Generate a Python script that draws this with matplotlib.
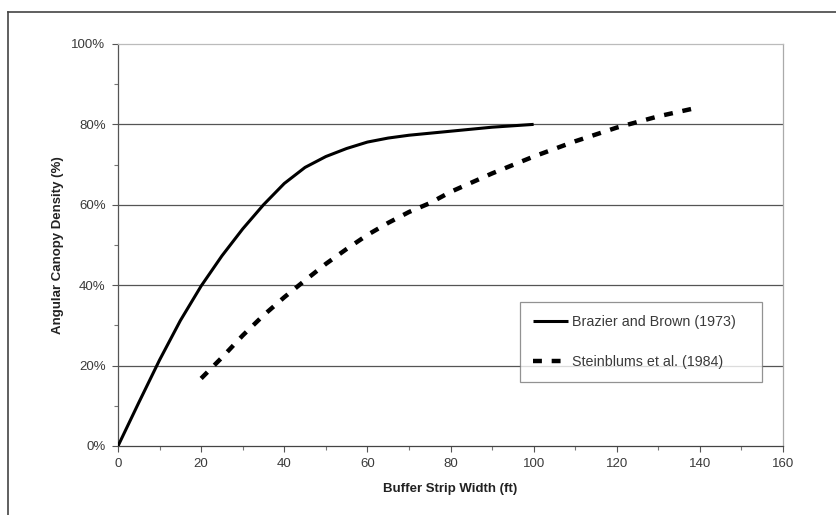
import matplotlib
matplotlib.use("Agg")
import matplotlib.pyplot as plt
from matplotlib.ticker import MultipleLocator, PercentFormatter
from matplotlib.lines import Line2D

plt.rcParams['font.family'] = ['Liberation Sans', 'DejaVu Sans']

brazier_x = [0, 5, 10, 15, 20, 25, 30, 35, 40, 45, 50, 55, 60, 65, 70, 80, 90, 100]
brazier_y = [0, 10.8, 21.4, 31.2, 39.8, 47.3, 54, 60, 65.3, 69.3, 72, 74, 75.6, 76.6, 77.3, 78.3, 79.3, 80]

stein_x = [20, 25, 30, 35, 40, 45, 50, 55, 60, 65, 70, 75, 80, 90, 100, 110, 120, 130, 140]
stein_y = [16.8, 22, 27.5, 32.5, 37, 41.2, 45.3, 49, 52.5, 55.5, 58.2, 60.4, 63.2, 67.8, 72, 75.8, 79.2, 82, 84.3]

labels = ["Brazier and Brown (1973)", "Steinblums et al. (1984)"]
xlabel = "Buffer Strip Width (ft)"
ylabel = "Angular Canopy Density (%)"

fig = plt.figure(figsize=(8.37, 5.15), dpi=100)
ax = fig.add_axes([0.141, 0.134, 0.7945, 0.7806])

for y in [20, 40, 60, 80]:
    ax.axhline(y, color='#555555', lw=0.9, zorder=1)

l1, = ax.plot(brazier_x, brazier_y, color='black', lw=2.2, solid_capstyle='butt',
              solid_joinstyle='round', zorder=3)
l2, = ax.plot(stein_x, stein_y, color='black', lw=3.2, dashes=(2.0, 2.2), zorder=3)

ax.set_xlim(0, 160)
ax.set_ylim(0, 100)
ax.xaxis.set_major_locator(MultipleLocator(20))
ax.xaxis.set_minor_locator(MultipleLocator(10))
ax.yaxis.set_major_locator(MultipleLocator(20))
ax.yaxis.set_minor_locator(MultipleLocator(10))
ax.yaxis.set_major_formatter(PercentFormatter(decimals=0))

ax.tick_params(axis='both', which='major', length=4, width=0.8, color='#555555',
               labelsize=9.5, labelcolor='#3a3a3a', pad=5)
ax.tick_params(axis='both', which='minor', length=3, width=0.8, color='#777777')
ax.tick_params(axis='x', which='both', direction='out')
ax.tick_params(axis='y', which='both', direction='out')

ax.spines['left'].set_color('#555555')
ax.spines['bottom'].set_color('#444444')
ax.spines['right'].set_color('#aaaaaa')
ax.spines['top'].set_color('#bbbbbb')
for s in ax.spines.values():
    s.set_linewidth(0.9)

ax.set_xlabel(xlabel, fontsize=9.5, fontweight='bold', color='#222222', labelpad=9)
ax.set_ylabel(ylabel, fontsize=9.5, fontweight='bold', color='#222222', labelpad=5)

leg = ax.legend([l1, l2], labels, loc='lower left', bbox_to_anchor=(0.605, 0.159, 0.363, 0.204),
                mode='expand', fontsize=10.3, frameon=True, fancybox=False, edgecolor='#777777',
                handlelength=2.4, handletextpad=0.3, labelspacing=1.85, borderpad=0.9,
                borderaxespad=0)
leg.get_frame().set_linewidth(0.9)
for t in leg.get_texts():
    t.set_color('#3a3a3a')

# outer frame (top and left edges)
fig.add_artist(Line2D([8/837, 1.0], [1 - 12/515, 1 - 12/515], color='#444444', lw=1.2, transform=fig.transFigure))
fig.add_artist(Line2D([8/837, 8/837], [0, 1 - 12/515], color='#444444', lw=1.2, transform=fig.transFigure))

fig.savefig("out.png", dpi=100)
